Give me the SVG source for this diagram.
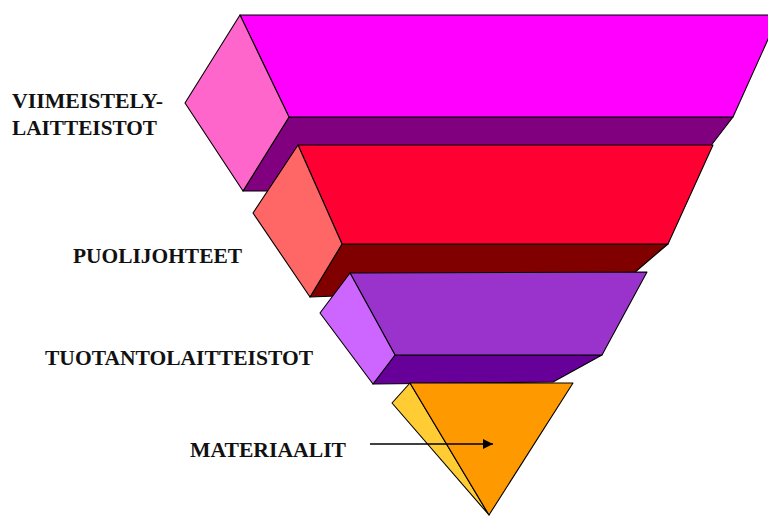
<svg xmlns="http://www.w3.org/2000/svg" width="768" height="516" viewBox="0 0 768 516">
  <defs>
    <style>
      .f { stroke: #000; stroke-width: 1.1; stroke-linejoin: round; }
      .lbl { font-family: "Liberation Serif", "Times New Roman", serif; font-weight: bold; font-size: 20px; fill: #111; }
    </style>
    <marker id="ah" viewBox="0 0 10 10" refX="10" refY="5" markerWidth="13" markerHeight="10" markerUnits="userSpaceOnUse" orient="auto">
      <path d="M0,0 L10,5 L0,10 Z" fill="#000"/>
    </marker>
  </defs>
  <rect width="768" height="516" fill="#fff"/>

  <g id="viimeistely">
    <polygon class="f" fill="#800080" points="289,117 733,117 676,191 243,191"/>
    <polygon class="f" fill="#FF00FF" points="240,15 779,15 733,117 289,117"/>
    <polygon class="f" fill="#FF66CC" points="240,15 289,117 243,191 185,103"/>
    <text class="lbl" x="12" y="108" textLength="151" lengthAdjust="spacingAndGlyphs">VIIMEISTELY-</text>
    <text class="lbl" x="12" y="135" textLength="145" lengthAdjust="spacingAndGlyphs">LAITTEISTOT</text>
  </g>

  <g id="puolijohteet">
    <polygon class="f" fill="#800000" points="342,244 668,244 620,285 310,297"/>
    <polygon class="f" fill="#FF0033" points="298,145 713,145 668,244 342,244"/>
    <polygon class="f" fill="#FF6666" points="298,145 342,244 310,297 253,213"/>
    <text class="lbl" x="73" y="263" textLength="169" lengthAdjust="spacingAndGlyphs">PUOLIJOHTEET</text>
  </g>

  <g id="tuotantolaitteistot">
    <polygon class="f" fill="#660099" points="395,355 602,355 553,382 373,384"/>
    <polygon class="f" fill="#9933CC" points="350,273 647,272 602,355 395,355"/>
    <polygon class="f" fill="#CC66FF" points="350,273 395,355 373,384 320,313"/>
    <text class="lbl" x="45" y="365" textLength="268" lengthAdjust="spacingAndGlyphs">TUOTANTOLAITTEISTOT</text>
  </g>

  <g id="materiaalit">
    <polygon class="f" fill="#FFCC33" points="410,383 392,403 489,515"/>
    <polygon class="f" fill="#FF9900" points="410,383 573,383 489,515"/>
    <text class="lbl" x="190" y="457" textLength="156" lengthAdjust="spacingAndGlyphs">MATERIAALIT</text>
  </g>

  <g id="connectors">
    <line x1="370" y1="444" x2="493" y2="444" stroke="#000" stroke-width="1.3" marker-end="url(#ah)"/>
  </g>
</svg>
